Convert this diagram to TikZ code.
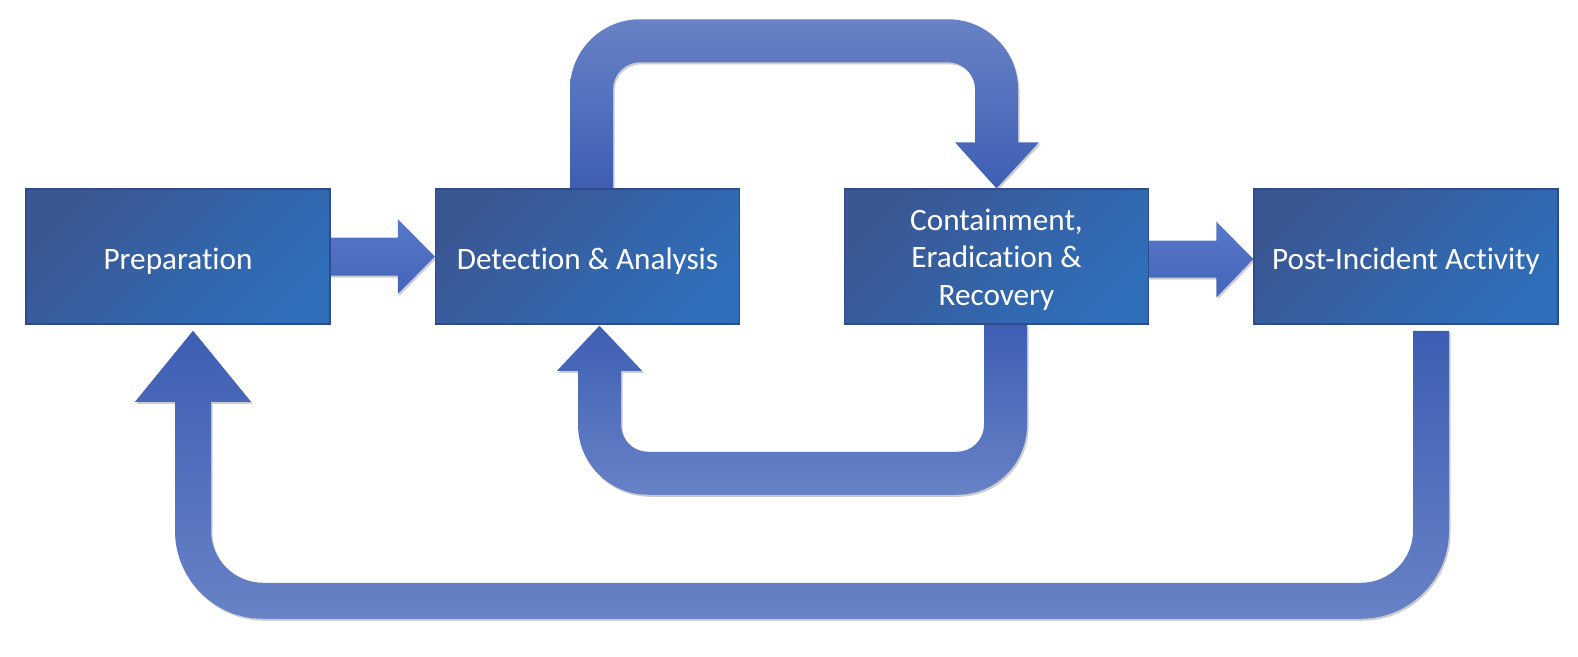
\documentclass[tikz,border=0pt]{standalone}
\usepackage{fontspec}
\setmainfont{Carlito}[Ligatures=NoCommon]
\usetikzlibrary{calc,shadows}
\definecolor{boxA}{HTML}{3A5794}
\definecolor{boxB}{HTML}{2F6EB9}
\definecolor{boxLine}{HTML}{2F4B8B}
\definecolor{arDark}{HTML}{3D5EB3}
\definecolor{arMid}{HTML}{4A6DC0}
\definecolor{arLight}{HTML}{6882C6}
\definecolor{hTop}{HTML}{5878C9}
\definecolor{hMid}{HTML}{4C6DC3}
\definecolor{hBot}{HTML}{4365BA}
\pgfdeclarelayer{background}
\pgfsetlayers{background,main}
\begin{document}
\begin{tikzpicture}[x=1pt,y=1pt,
  stagefont/.style={text=white, font=\fontsize{31.2}{37.5}\selectfont, align=center},
  stage/.style={rectangle, minimum width=304pt, minimum height=135pt, inner sep=0pt,
    draw=boxLine, line width=1.5pt, top color=boxA, bottom color=boxB, shading angle=45,
    stagefont},
  oneline/.style={text height=26pt, text depth=0pt},
  shadowed/.style={drop shadow={shadow xshift=1.5pt, shadow yshift=-2pt, opacity=0.2, fill=black}},
  uparrow/.style={shadowed, top color=arDark, middle color=arMid, bottom color=arLight},
  downarrow/.style={shadowed, top color=arLight, middle color=arMid, bottom color=arDark},
  harrow/.style={shadowed, top color=hTop, middle color=hMid, bottom color=hBot}]
\useasboundingbox (0,0) rectangle (1578,-656);

\node[stage, oneline] (prep) at (178,-256.5) {Preparation};
\node[stage, oneline] (det)  at (587.5,-256.5) {Detection \& Analysis};
\node[stage, label={[stagefont, inner sep=0pt, yshift=-3pt]center:{Containment,\\Eradication \&\\Recovery}}] (cont) at (996.5,-256.5) {};
\node[stage, oneline] (post) at (1406,-256.5) {Post-Incident Activity};

\begin{pgfonlayer}{background}
% Preparation -> Detection
\path[harrow] ($(prep.east)+(-5,19)$) -- ($(det.west)+(-37,19)$) -- ($(det.west)+(-37,37.5)$)
  -- (det.west) -- ($(det.west)+(-37,-37.5)$) -- ($(det.west)+(-37,-19)$)
  -- ($(prep.east)+(-5,-19)$) -- cycle;
% Containment -> Post-Incident
\path[harrow] ($(cont.east)+(-1,16)$) -- ($(post.west)+(-37,16)$) -- ($(post.west)+(-37,35)$)
  -- ($(post.west)+(0,-2.5)$) -- ($(post.west)+(-37,-41)$) -- ($(post.west)+(-37,-21)$)
  -- ($(cont.east)+(-1,-21)$) -- cycle;
% Detection -> Containment (top loop)
\path[downarrow] ($(det.north)+(-17.5,0)$) -- ($(det.north)+(-17.5,99)$)
  arc[start angle=180, end angle=90, radius=70pt]
  -- ($(cont.north)+(-48.5,169)$)
  arc[start angle=90, end angle=0, radius=70pt]
  -- ($(cont.north)+(21.5,46)$) -- ($(cont.north)+(42.5,46)$)
  -- (cont.north)
  -- ($(cont.north)+(-41.5,46)$) -- ($(cont.north)+(-21.5,46)$)
  -- ($(cont.north)+(-21.5,99)$)
  arc[start angle=0, end angle=90, radius=27pt]
  -- ($(det.north)+(52.5,126)$)
  arc[start angle=90, end angle=180, radius=27pt]
  -- ($(det.north)+(25.5,0)$) -- cycle;
% Containment -> Detection (lower loop)
\path[uparrow] ($(cont.south)+(-12.5,0)$) -- ($(cont.south)+(30.5,0)$)
  -- ($(cont.south)+(30.5,-100)$)
  arc[start angle=0, end angle=-90, radius=70pt]
  -- ($(det.south)+(60.5,-170)$)
  arc[start angle=270, end angle=180, radius=70pt]
  -- ($(det.south)+(-9.5,-46)$) -- ($(det.south)+(-30.5,-46)$)
  -- ($(det.south)+(12,-1)$)
  -- ($(det.south)+(54.5,-46)$) -- ($(det.south)+(33.5,-46)$)
  -- ($(det.south)+(33.5,-100)$)
  arc[start angle=180, end angle=270, radius=27pt]
  -- ($(cont.south)+(-39.5,-127)$)
  arc[start angle=270, end angle=360, radius=27pt]
  -- cycle;
% Post-Incident -> Preparation (outer loop)
\path[uparrow] ($(post.south)+(7,-6)$) -- ($(post.south)+(43,-6)$)
  -- ($(post.south)+(43,-206)$)
  arc[start angle=0, end angle=-90, radius=88pt]
  -- ($(prep.south)+(85,-294)$)
  arc[start angle=270, end angle=180, radius=88pt]
  -- ($(prep.south)+(-3,-77)$) -- ($(prep.south)+(-43,-77)$)
  -- ($(prep.south)+(15,-6)$)
  -- ($(prep.south)+(73,-77)$) -- ($(prep.south)+(33,-77)$)
  -- ($(prep.south)+(33,-206)$)
  arc[start angle=180, end angle=270, radius=52pt]
  -- ($(post.south)+(-45,-258)$)
  arc[start angle=270, end angle=360, radius=52pt]
  -- cycle;
\end{pgfonlayer}
\end{tikzpicture}
\end{document}
